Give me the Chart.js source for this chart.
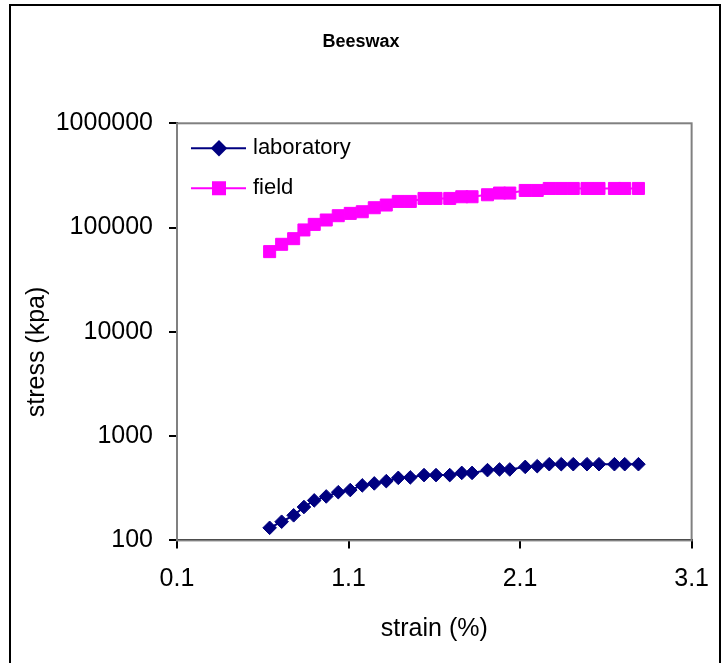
<!DOCTYPE html>
<html lang="en">
<head>
    <meta charset="UTF-8">
    <title>Beeswax</title>
    <script src="https://cdn.jsdelivr.net/npm/chart.js"></script>
    <style>
        body { margin: 0; background: #fff; }
        #wrap { width: 725px; height: 663px; position: relative; }
    </style>
</head>
<body>
    <div id="wrap"><canvas id="chart"></canvas></div>
    <script>
        // strain (%) shared by both series
        const strain = [0.64, 0.71, 0.78, 0.84, 0.90, 0.97, 1.04, 1.11, 1.18, 1.25, 1.32,
                        1.39, 1.46, 1.54, 1.61, 1.69, 1.76, 1.82, 1.91, 1.98, 2.04, 2.13,
                        2.20, 2.27, 2.34, 2.41, 2.49, 2.56, 2.65, 2.71, 2.79];
        const labStress = [132, 151, 174, 209, 242, 264, 290, 304, 337, 352, 370,
                           398, 402, 423, 423, 423, 444, 444, 472, 479, 479, 507,
                           515, 538, 538, 538, 538, 538, 538, 538, 538];
        const fieldStress = [58800, 69100, 78300, 94900, 107300, 118200, 130000, 136800, 141900, 155000, 164500,
                             178100, 178100, 190300, 190300, 190300, 197500, 197500, 206400, 214300, 214300, 227000,
                             227000, 237200, 237200, 237200, 237200, 237200, 237200, 237200, 237200];
        const seriesNames = ['laboratory', 'field'];
        const xTicks = [0.1, 1.1, 2.1, 3.1];
        const yTicks = [100, 1000, 10000, 100000, 1000000];
        const chartTitle = 'Beeswax';
        const yTitle = 'stress (kpa)';

        const FONT = '"Liberation Sans", Arial, sans-serif';

        function points(ys) {
            return strain.map((x, i) => ({ x: x, y: ys[i] }));
        }

        // outer frame, title, y title and grey plot border
        const framePlugin = {
            id: 'frame',
            beforeDraw(chart) {
                const ctx = chart.ctx;
                ctx.save();
                ctx.fillStyle = '#fff';
                ctx.fillRect(0, 0, chart.width, chart.height);
                ctx.strokeStyle = '#000';
                ctx.lineWidth = 2;
                ctx.strokeRect(10, 5, 710, 700);

                ctx.fillStyle = '#000';
                ctx.textAlign = 'center';
                ctx.textBaseline = 'middle';
                ctx.font = 'bold 18px ' + FONT;
                ctx.fillText(chartTitle, 361, 42);

                ctx.font = '25px ' + FONT;
                ctx.translate(37, 352);
                ctx.rotate(-Math.PI / 2);
                ctx.fillText(yTitle, 0, 0);
                ctx.restore();
            },
            beforeDatasetsDraw(chart) {
                const a = chart.chartArea;
                const ctx = chart.ctx;
                ctx.save();
                ctx.strokeStyle = '#808080';
                ctx.lineWidth = 2;
                ctx.strokeRect(a.left, a.top, a.right - a.left, a.bottom - a.top);
                ctx.restore();
            }
        };

        // legend in the top left corner of the plot, line + marker style
        const legendPlugin = {
            id: 'innerLegend',
            afterDatasetsDraw(chart) {
                const ctx = chart.ctx;
                const a = chart.chartArea;
                ctx.save();
                chart.data.datasets.forEach((ds, i) => {
                    const y = a.top + 25 + i * 40;
                    const x0 = a.left + 14;
                    ctx.strokeStyle = ds.borderColor;
                    ctx.lineWidth = 2;
                    ctx.beginPath();
                    ctx.moveTo(x0, y);
                    ctx.lineTo(x0 + 55, y);
                    ctx.stroke();
                    Chart.helpers.drawPoint(ctx, {
                        pointStyle: ds.pointStyle,
                        radius: ds.pointRadius,
                        borderWidth: 1
                    }, x0 + 28, y);
                    ctx.fillStyle = ds.backgroundColor;
                    ctx.fill();
                    ctx.fillStyle = '#000';
                    ctx.font = '22px ' + FONT;
                    ctx.textBaseline = 'middle';
                    ctx.fillText(ds.label, x0 + 62, y);
                });
                ctx.restore();
            }
        };

        new Chart(document.getElementById('chart'), {
            type: 'line',
            data: {
                datasets: [{
                    label: seriesNames[0],
                    data: points(labStress),
                    borderColor: '#000080',
                    backgroundColor: '#000080',
                    borderWidth: 2,
                    pointStyle: 'rectRot',
                    pointRadius: 6.8,
                    pointBorderWidth: 1,
                    tension: 0
                }, {
                    label: seriesNames[1],
                    data: points(fieldStress),
                    borderColor: '#ff00ff',
                    backgroundColor: '#ff00ff',
                    borderWidth: 2,
                    pointStyle: 'rect',
                    pointRadius: 8.5,
                    pointBorderWidth: 1,
                    tension: 0
                }]
            },
            options: {
                responsive: true,
                maintainAspectRatio: false,
                animation: false,
                layout: { padding: { left: 0, right: 32, top: 123.3, bottom: 0 } },
                plugins: {
                    legend: { display: false },
                    tooltip: { enabled: false },
                    title: { display: false }
                },
                scales: {
                    x: {
                        type: 'linear',
                        min: 0.1,
                        max: 3.1,
                        afterBuildTicks: s => { s.ticks = xTicks.map(v => ({ value: v })); },
                        afterFit: s => { s.height = 122.6; },
                        ticks: {
                            color: '#000',
                            padding: 16,
                            maxRotation: 0,
                            font: { family: FONT, size: 25 },
                            callback: v => v.toFixed(1)
                        },
                        grid: { drawOnChartArea: false, color: '#000', lineWidth: 2, tickLength: 8 },
                        border: { color: '#000', width: 2 },
                        title: {
                            display: true,
                            text: 'strain (%)',
                            color: '#000',
                            font: { family: FONT, size: 25 },
                            padding: { top: 0, bottom: 19 }
                        }
                    },
                    y: {
                        type: 'logarithmic',
                        min: 100,
                        max: 1000000,
                        afterBuildTicks: s => { s.ticks = yTicks.map(v => ({ value: v })); },
                        afterFit: s => { s.width = 177; },
                        ticks: {
                            color: '#000',
                            padding: 16,
                            font: { family: FONT, size: 25 },
                            callback: v => String(v)
                        },
                        grid: { drawOnChartArea: false, color: '#000', lineWidth: 2, tickLength: 8 },
                        border: { color: '#000', width: 2 }
                    }
                }
            },
            plugins: [framePlugin, legendPlugin]
        });
    </script>
</body>
</html>
